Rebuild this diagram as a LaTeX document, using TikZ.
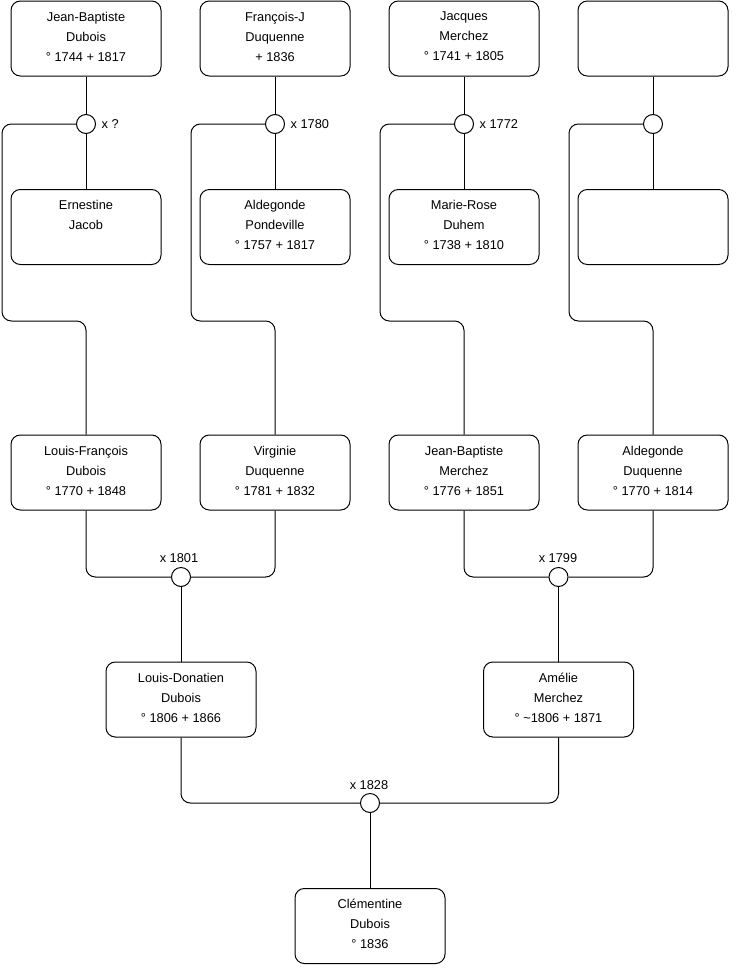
\documentclass[tikz,border=0pt]{standalone}
\usepackage{fontspec}
\setmainfont{Liberation Sans}
\begin{document}
\begin{tikzpicture}[x=0.75pt,y=-0.75pt,
  pbox/.style={draw, rounded corners=7pt, minimum width=112.5pt, minimum height=56.25pt, inner sep=0pt, line width=0.75pt},
  ptext/.style={anchor=north, inner sep=0pt, align=center, font=\fontsize{9.6}{15}\selectfont},
  mcirc/.style={draw, circle, fill=white, minimum size=14.25pt, inner sep=0pt, line width=0.75pt},
  mlabel/.style={inner sep=0pt, font=\fontsize{9.6}{11}\selectfont},
  link/.style={line width=0.75pt, rounded corners=7pt}]
\useasboundingbox (0,0) rectangle (740,975);
\newcommand\pers[4]{\node[pbox] (#1) at (#2,#3) {};
  \node[ptext] (#1-t) at ([yshift=-8.3pt]#1.north) {#4};}
% row 1
\pers{jb}{86}{38.5}{Jean-Baptiste\\Dubois\\° 1744 + 1817}
\pers{fj}{275}{38.5}{François-J\\Duquenne\\+ 1836}
\pers{jm}{464}{38.5}{Jacques\\Merchez\\° 1741 + 1805}
\pers{ea}{653}{38.5}{}
% row 2
\pers{ej}{86}{227}{Ernestine\\Jacob}
\pers{ap}{275}{227}{Aldegonde\\Pondeville\\° 1757 + 1817}
\pers{mr}{464}{227}{Marie-Rose\\Duhem\\° 1738 + 1810}
\pers{eb}{653}{227}{}
% row 3
\pers{lf}{86}{472.5}{Louis-François\\Dubois\\° 1770 + 1848}
\pers{vd}{275}{472.5}{Virginie\\Duquenne\\° 1781 + 1832}
\pers{jbm}{464}{472.5}{Jean-Baptiste\\Merchez\\° 1776 + 1851}
\pers{ad}{653}{472.5}{Aldegonde\\Duquenne\\° 1770 + 1814}
% row 4
\pers{ld}{181}{699.5}{Louis-Donatien\\Dubois\\° 1806 + 1866}
\pers{am}{558.5}{699.5}{Amélie\\Merchez\\° \textasciitilde1806 + 1871}
% row 5
\pers{cl}{370}{926}{Clémentine\\Dubois\\° 1836}
% marriage circles
\node[mcirc] (m1) at (86,124) {};
\node[mcirc] (m2) at (275,124) {};
\node[mcirc] (m3) at (464,124) {};
\node[mcirc] (m4) at (653,124) {};
\node[mcirc] (m5) at (181,577) {};
\node[mcirc] (m6) at (558.5,577) {};
\node[mcirc] (m7) at (370,803) {};
% labels
\node[mlabel, anchor=west] (l1) at ([xshift=4pt]m1.east) {x ?};
\node[mlabel, anchor=west] (l2) at ([xshift=4pt]m2.east) {x 1780};
\node[mlabel, anchor=west] (l3) at ([xshift=4pt]m3.east) {x 1772};
\node[mlabel] (l5) at (179,558) {x 1801};
\node[mlabel] (l6) at (558,558) {x 1799};
\node[mlabel] (l7) at (369,785) {x 1828};
% connectors top
\foreach \a/\m/\b in {jb/m1/ej, fj/m2/ap, jm/m3/mr, ea/m4/eb}{
  \draw[link] (\a.south) -- (\m.north);
  \draw[link] (\m.south) -- (\b.north);
}
\draw[link] (m1.west) -- (2,124) -- (2,321) -- (86,321) -- (lf.north);
\draw[link] (m2.west) -- (191,124) -- (191,321) -- (275,321) -- (vd.north);
\draw[link] (m3.west) -- (380,124) -- (380,321) -- (464,321) -- (jbm.north);
\draw[link] (m4.west) -- (569,124) -- (569,321) -- (653,321) -- (ad.north);
% connectors middle
\draw[link] (lf.south) |- (m5.west);
\draw[link] (vd.south) |- (m5.east);
\draw[link] (m5.south) -- (ld.north);
\draw[link] (jbm.south) |- (m6.west);
\draw[link] (ad.south) |- (m6.east);
\draw[link] (m6.south) -- (am.north);
% bottom
\draw[link] (ld.south) |- (m7.west);
\draw[link] (am.south) |- (m7.east);
\draw[link] (m7.south) -- (cl.north);
\end{tikzpicture}
\end{document}
